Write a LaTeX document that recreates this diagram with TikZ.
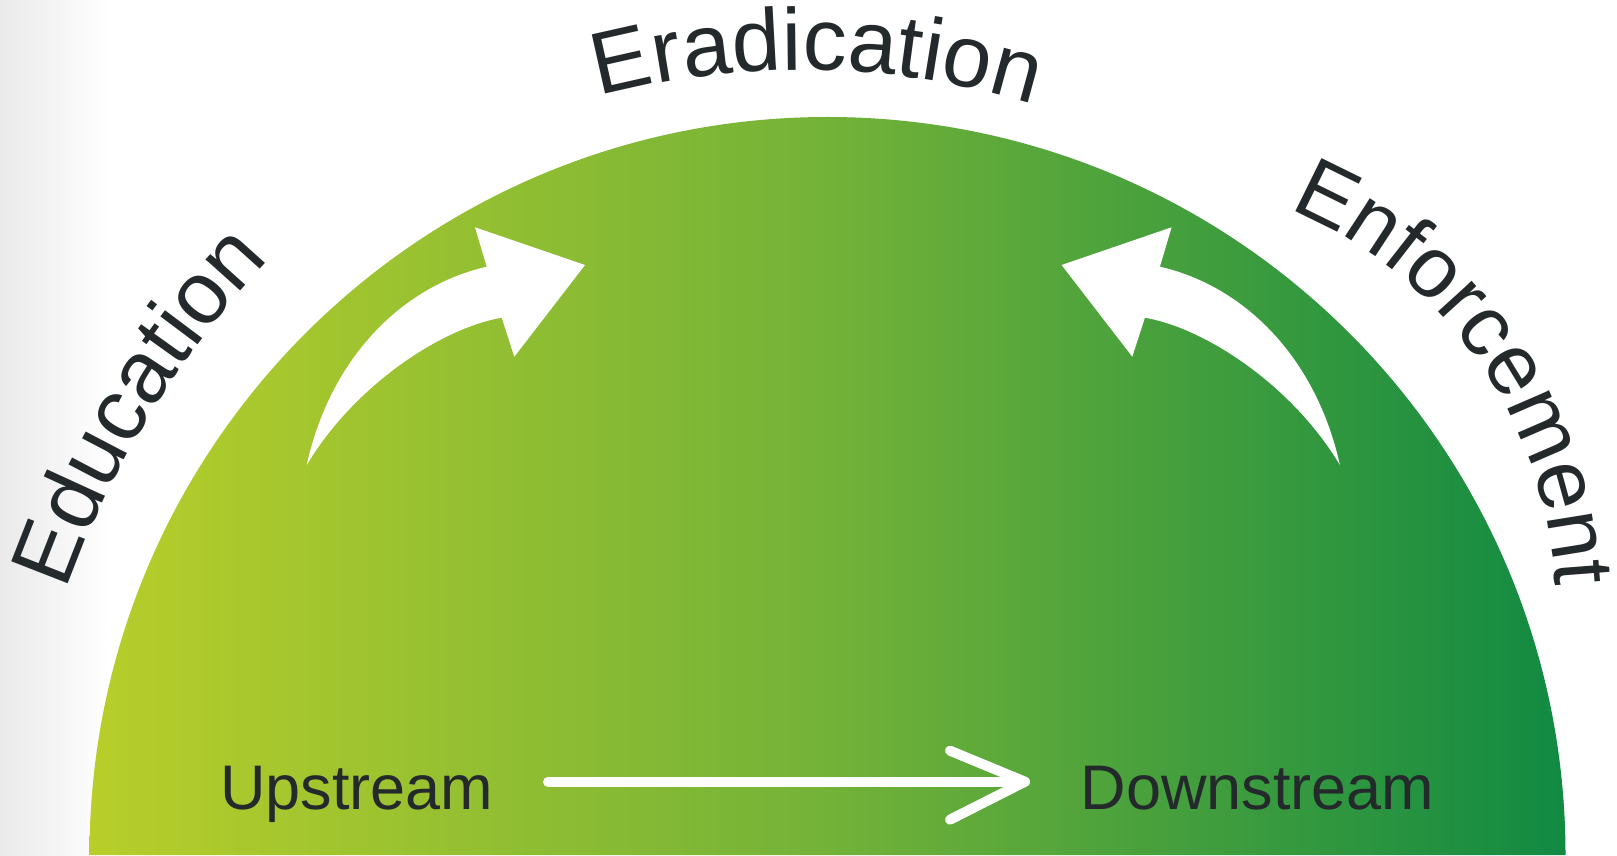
\documentclass[tikz,border=0pt]{standalone}
\usepackage{fontspec}
\setmainfont{Liberation Sans}
\usetikzlibrary{decorations.text,calc}
\definecolor{txtdark}{RGB}{36,41,43}
\definecolor{domeL}{RGB}{184,206,42}
\definecolor{domeM}{RGB}{115,178,56}
\definecolor{domeR}{RGB}{17,138,66}
\definecolor{bggray}{RGB}{234,234,234}
\newcommand\streamfont{\fontsize{63}{63}\selectfont}
\begin{document}
\begin{tikzpicture}[x=1pt,y=1pt,
  curvedword/.style n args={2}{decorate, decoration={text along path, text align=center, text color=txtdark, text={|\fontsize{#1}{#1}\selectfont|#2}}},
  streamlabel/.style={anchor=base west, inner sep=0pt, text=txtdark, font=\streamfont},
  whitearrow/.style={fill=white, draw=none},
  flowline/.style={draw=white, line width=10pt, line cap=round, line join=round}]
\useasboundingbox (0,0) rectangle (1617,855);
\fill[white] (0,0) rectangle (1617,855);
\shade[left color=bggray, right color=white] (0,0) rectangle (110,855);
% dome
\shade[left color=domeL, right color=domeR, middle color=domeM] (89.5,0) arc[start angle=180, end angle=0, radius=738] -- cycle;
% curved words
\path[curvedword={88}{Education}] (951,-50) ++(173.5:939) arc[start angle=173.5, end angle=123.5, radius=939];
\path[curvedword={88}{Eradication}] (801.5,-8) ++(128.9:793) arc[start angle=128.9, end angle=48.9, radius=793];
\path[curvedword={86}{Enforcement}] (1124.5,247.5) ++(85.2:431) arc[start angle=85.2, end angle=-14.8, radius=431];
% curved white arrows
\fill[whitearrow] (306.7,390) .. controls (330,495) and (400,568.3) .. (486.7,588.3) -- (475,627.7) -- (585,590) -- (514.3,498.3) -- (501.7,537.3) .. controls (440,526.7) and (353.3,468.3) .. (306.7,390) -- cycle;
\fill[whitearrow] (1339.9,390) .. controls (1316.6,495) and (1246.6,568.3) .. (1159.9,588.3) -- (1171.6,627.7) -- (1061.6,590) -- (1132.3,498.3) -- (1144.9,537.3) .. controls (1206.6,526.7) and (1293.3,468.3) .. (1339.9,390) -- cycle;
% stream labels and flow arrow
\node[streamlabel] (up) at (220,46) {Upstream};
\node[streamlabel] (down) at (1080.5,46) {Downstream};
\coordinate (arrS) at (548,73.3);
\coordinate (arrE) at (1025,73.3);
\draw[flowline] (arrS) -- (arrE);
\draw[flowline] ($(arrE)+(-75,31)$) -- (arrE) -- ($(arrE)+(-75,-38)$);
\end{tikzpicture}
\end{document}
